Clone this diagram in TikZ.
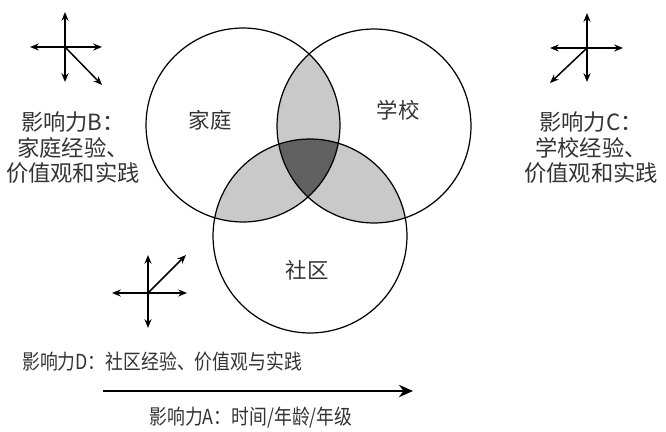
\documentclass[tikz,border=0pt]{standalone}
\usepackage{fontspec}
\setmainfont{Noto Sans CJK SC}
\newfontfamily\narrowcjk[FakeStretch=0.86]{Noto Sans CJK SC}
\usepackage{xcolor}
\usepackage{tikz}
\usetikzlibrary{positioning,arrows.meta}
\definecolor{overlap}{gray}{0.79}
\definecolor{core}{gray}{0.38}
\definecolor{inktext}{gray}{0.2}

\begin{document}
\begin{tikzpicture}[
    x=0.02cm, y=-0.02cm,
    ring/.style={draw, circle, line width=0.7pt, minimum size=3.88cm, inner sep=0pt},
    lbl/.style={font=\fontsize{12.2}{14.5}\selectfont, text=inktext, align=center},
    sidelbl/.style={font=\fontsize{12.7}{14.5}\selectfont, text=inktext, align=center},
    baselbl/.style={font=\narrowcjk\fontsize{11.8}{13}\selectfont, text=inktext},
    axis/.style={{Stealth[length=5pt,width=4pt]}-{Stealth[length=5pt,width=4pt]}, line width=0.85pt},
    ray/.style={-{Stealth[length=5pt,width=4pt]}, line width=0.85pt},
    timeline/.style={-{Stealth[length=8pt,width=7pt]}, line width=1.6pt}
]
  \useasboundingbox (0,0) rectangle (666,432);

  % circle centres
  \coordinate (cHome) at (243,125);
  \coordinate (cSchool) at (374,126);
  \coordinate (cTown) at (310,236);

  % overlaps
  \begin{scope}
    \clip (cHome) circle (1.94cm);
    \fill[overlap] (cSchool) circle (1.94cm);
    \fill[overlap] (cTown) circle (1.94cm);
  \end{scope}
  \begin{scope}
    \clip (cSchool) circle (1.94cm);
    \fill[overlap] (cTown) circle (1.94cm);
  \end{scope}
  \begin{scope}
    \clip (cHome) circle (1.94cm);
    \clip (cSchool) circle (1.94cm);
    \fill[core] (cTown) circle (1.94cm);
  \end{scope}

  \node[ring] (home) at (cHome) {};
  \node[ring] (school) at (cSchool) {};
  \node[ring] (town) at (cTown) {};

  \node[lbl] (homeTxt) at (210,120) {家庭};
  \node[lbl] (schoolTxt) at (398,110) {学校};
  \node[lbl] (townTxt) at (307,270) {社区};

  % influence B
  \coordinate (bO) at (65,47);
  \coordinate (bN) at (65,12);
  \coordinate (bS) at (65,82);
  \coordinate (bW) at (30,47);
  \coordinate (bE) at (102,47);
  \coordinate (bD) at (102,85);
  \draw[axis] (bN) -- (bS);
  \draw[axis] (bW) -- (bE);
  \draw[ray] (bO) -- (bD);
  \node[sidelbl] (bTxt) at (73,148) {影响力B：\\家庭经验、\\价值观和实践};

  % influence C
  \coordinate (cO) at (587,48);
  \coordinate (cN) at (587,13);
  \coordinate (cS) at (587,82);
  \coordinate (cW) at (550,48);
  \coordinate (cE) at (623,48);
  \coordinate (cD) at (550,83);
  \draw[axis] (cN) -- (cS);
  \draw[axis] (cW) -- (cE);
  \draw[ray] (cO) -- (cD);
  \node[sidelbl] (cTxt) at (591,148) {影响力C：\\学校经验、\\价值观和实践};

  % influence D
  \coordinate (dO) at (148,293);
  \coordinate (dN) at (148,255);
  \coordinate (dS) at (148,328);
  \coordinate (dW) at (112,293);
  \coordinate (dE) at (187,293);
  \coordinate (dD) at (186,255);
  \draw[axis] (dN) -- (dS);
  \draw[axis] (dW) -- (dE);
  \draw[ray] (dO) -- (dD);
  \node[baselbl, anchor=west] (dTxt) at (16,362) {影响力D：社区经验、价值观与实践};

  % influence A
  \coordinate (tStart) at (103,391);
  \coordinate (tEnd) at (413,391);
  \draw[timeline] (tStart) -- (tEnd);
  \node[baselbl] (aTxt) at (251,418) {影响力A：时间/年龄/年级};
\end{tikzpicture}
\end{document}
